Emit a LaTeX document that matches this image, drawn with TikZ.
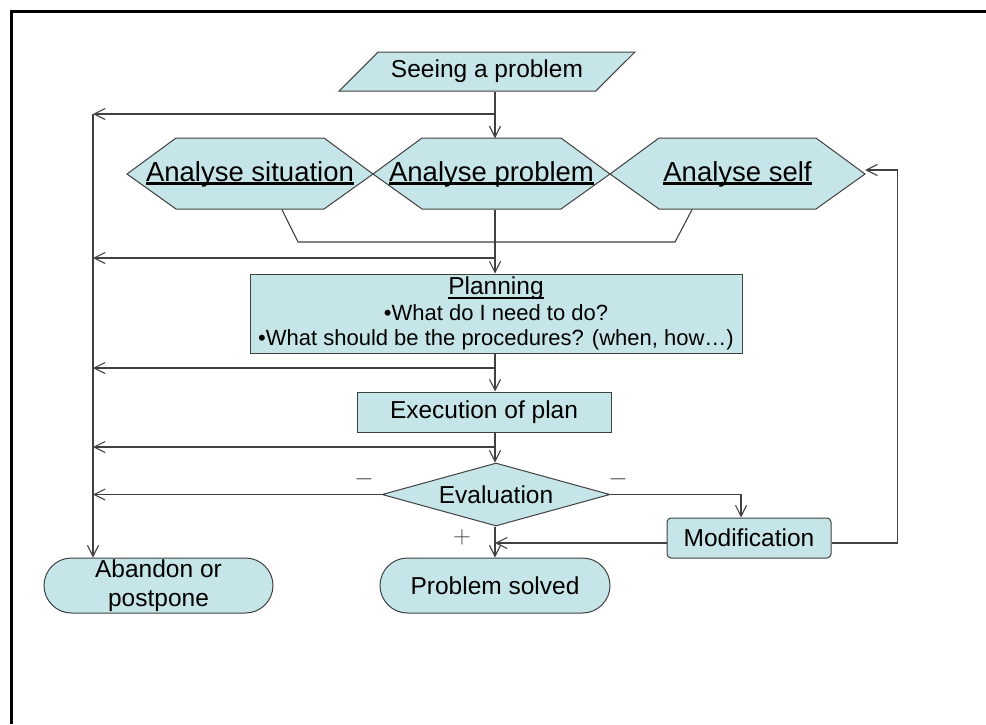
\documentclass[tikz,border=0pt]{standalone}
\usepackage{fontspec}
\setmainfont{Liberation Sans}
\usetikzlibrary{arrows.meta,shapes.geometric,shapes.misc}
\definecolor{boxfill}{RGB}{198,229,232}
\definecolor{edge}{RGB}{64,64,64}
\newcommand\ulbox[2][2.8pt]{\setbox0\hbox{#2}\rlap{\rule[-4pt]{\wd0}{#1}}\box0}
\tikzset{
  box/.style={draw=edge, fill=boxfill, line width=1pt, inner sep=0pt,
              font=\fontsize{24.5}{29}\selectfont},
  hexa/.style={inner sep=0pt, minimum height=71pt, font=\fontsize{27.5}{32}\selectfont},
  conn/.style={draw=edge, line width=1.1pt},
  arr/.style={conn, -{Straight Barb[length=11pt,width=11pt]}},
  sign/.style={inner sep=0pt, text=edge, font=\fontsize{28}{30}\selectfont}
}
\begin{document}
\begin{tikzpicture}[x=1pt, y=-1pt]
  \useasboundingbox (0,0) rectangle (986,724);
  \draw[line width=3pt] (11,724) -- (11,11) -- (986,11);
  \coordinate (spine) at (495,0);
  \coordinate (lft) at (93,114);
  \coordinate (j1) at (298,242);
  \coordinate (j2) at (675,242);
  % the three analysis hexagons
  \foreach \l/\r in {127/373,373/610,610/865}
    \draw[box] (\l,174) -- (\l+49,138) -- (\r-49,138) -- (\r,174)
      -- (\r-49,209) -- (\l+49,209) -- cycle;
  \node[hexa, minimum width=246pt] (sit) at (250,174) {\ulbox{Analyse situation}};
  \node[hexa, minimum width=237pt] (prob) at (491.5,174) {\ulbox{Analyse problem}};
  \node[hexa, minimum width=255pt] (self) at (737.5,174) {\ulbox{Analyse self}};

  \node[box, trapezium, trapezium left angle=33.5, trapezium right angle=146.5,
        trapezium stretches, minimum width=296pt, minimum height=39pt]
        (see) at (487,71.5) {Seeing a problem};
  \node[box, minimum width=492pt, minimum height=79pt, align=center,
        font=\fontsize{22}{25.5}\selectfont] (plan) at (496,313.5)
        {{\fontsize{24.5}{25.5}\selectfont\ulbox[1.8pt]{Planning}}\\
         •What do I need to do?\\
         •What should be the procedures? (when, how…)};
  \node[box, minimum width=254pt, minimum height=40pt] (exe) at (484,412) {Execution of plan};
  \node[box, diamond, aspect=3.6, minimum width=228pt, minimum height=63pt]
        (eval) at (496,494.5) {Evaluation};
  \node[box, rounded corners=4pt, minimum width=164pt, minimum height=40pt]
        (mod) at (749,538) {Modification};
  \node[box, rounded rectangle, minimum width=230pt, minimum height=55pt]
        (solved) at (495,585.5) {Problem solved};
  \node[box, rounded rectangle, minimum width=229pt, minimum height=55pt, align=center]
        (aband) at (158.5,585.5) {Abandon or\\postpone};

  \draw[arr] (see.south -| spine) -- (prob.north -| spine);
  \draw[arr] (prob.south -| spine) -- (plan.north -| spine);
  \draw[arr] (plan.south -| spine) -- (exe.north -| spine);
  \draw[arr] (exe.south -| spine) -- (eval.north -| spine);
  \draw[arr] (eval.south -| spine) -- (solved.north -| spine);
  \foreach \y in {114,258,368,447}
    \draw[arr] (spine |- 0,\y) -- (lft |- 0,\y);
  \draw[arr] (lft) -- (lft |- aband.north);
  \draw[arr] (eval.west) -- (eval.west -| lft);
  \draw[conn] ([xshift=32pt]sit.south) -- (j1) -- (j2) -- ([xshift=-45.5pt]self.south);
  \draw[arr] (eval.east) -| ([xshift=-8pt]mod.north);
  \draw[arr] ([yshift=-5pt]mod.west) -- ([yshift=-5pt]mod.west -| spine);
  \draw[arr] ([yshift=-5pt]mod.east) -- ++(66,0) |- ([yshift=4pt]self.east);

  \node[sign] (neg1) at (364,479) {$-$};
  \node[sign] (neg2) at (618,479) {$-$};
  \node[sign] (pos) at (462,537) {$+$};
\end{tikzpicture}
\end{document}
